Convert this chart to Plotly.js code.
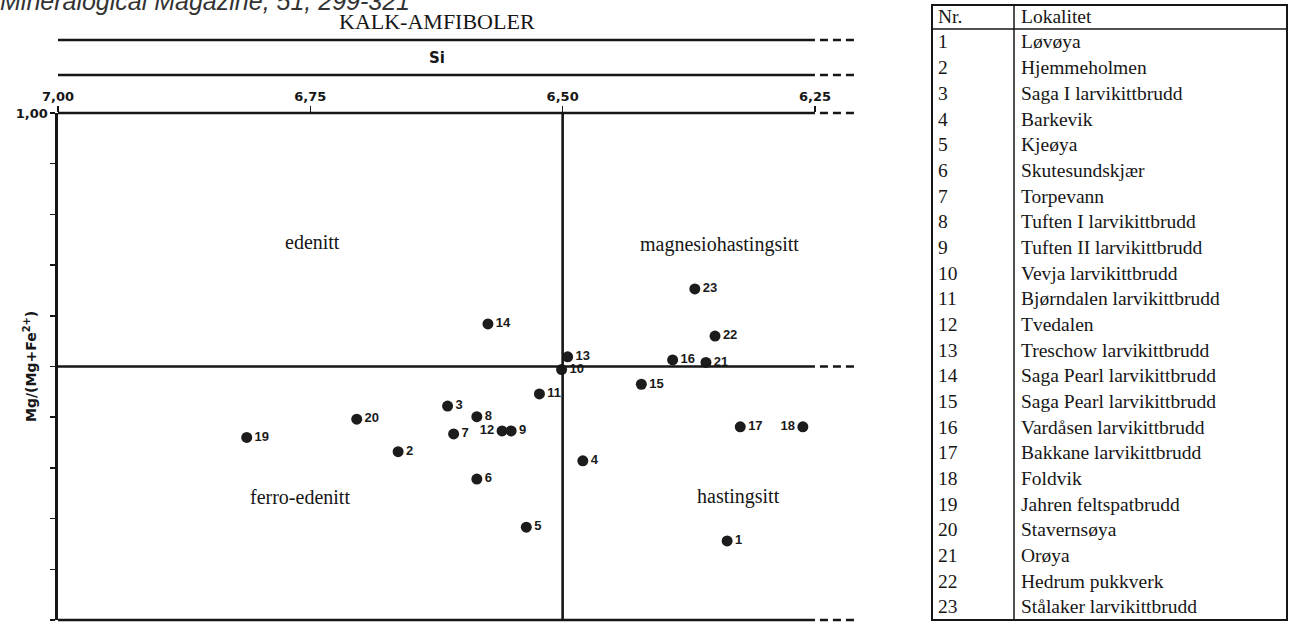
<!DOCTYPE html>
<html>
<head>
<meta charset="utf-8">
<script src="https://cdn.plot.ly/plotly-3.0.1.min.js"></script>
<style>html,body{margin:0;padding:0;background:#fff;}#chart{width:1293px;height:624px;}</style>
</head>
<body>
<div id="chart"></div>
<script>
// ---- data ----
const pointIds = [1,2,3,4,5,6,7,8,9,10,11,12,13,14,15,16,17,18,19,20,21,22,23];
const siValues = [6.337,6.663,6.614,6.480,6.536,6.585,6.608,6.585,6.551,6.501,6.523,6.560,6.495,6.574,6.422,6.391,6.324,6.262,6.813,6.704,6.358,6.349,6.369];
const mgValues = [0.156,0.332,0.422,0.314,0.183,0.278,0.367,0.401,0.373,0.494,0.446,0.373,0.519,0.584,0.465,0.513,0.381,0.381,0.360,0.396,0.508,0.560,0.653];
const labelLeftIds = [12,18];

const xTickVals = [7.00,6.75,6.50,6.25];
const xTickText = ['7,00','6,75','6,50','6,25'];
const yTickVals = [0,1.0];
const yTickText = ['0,00','1,00'];
const yMinorStep = 0.1;

const regionNames = ['edenitt','magnesiohastingsitt','ferro-edenitt','hastingsitt'];
const regionX = [6.748,6.345,6.760,6.326];
const regionY = [0.746,0.740,0.243,0.243];

const tableHeader = ['Nr.','Lokalitet'];
const tableNames = ['Løvøya','Hjemmeholmen','Saga I larvikittbrudd','Barkevik','Kjeøya','Skutesundskjær','Torpevann','Tuften I larvikittbrudd','Tuften II larvikittbrudd','Vevja larvikittbrudd','Bjørndalen larvikittbrudd','Tvedalen','Treschow larvikittbrudd','Saga Pearl larvikittbrudd','Saga Pearl larvikittbrudd','Vardåsen larvikittbrudd','Bakkane larvikittbrudd','Foldvik','Jahren feltspatbrudd','Stavernsøya','Orøya','Hedrum pukkverk','Stålaker larvikittbrudd'];

// ---- layout geometry ----
const W = 1293, H = 624;
const mL = 58, mT = 113, mB = 4;
const plotRightPx = 858;
const mR = W - plotRightPx;
const xStart = 7.0, xSolidEnd = 6.25;
const plotW = plotRightPx - mL, plotH = H - mT - mB;
const xEnd = xSolidEnd - 43 / (252 / 0.25);
const fx = v => (xStart - v) / (xStart - xEnd);          // data x -> paper
const pxX = p => (p - mL) / plotW;                         // pixel -> paper
const pxY = p => (H - mB - p) / plotH;
const dashStartFrac = fx(xSolidEnd) + 5 / plotW;

const ink = '#161616';
const lw = 2.6;
const shapes = [];
[40, 75].forEach(py => {
  shapes.push({type:'line', xref:'paper', yref:'paper', x0:0, x1:fx(xSolidEnd), y0:pxY(py), y1:pxY(py), line:{color:ink, width:lw}});
  shapes.push({type:'line', xref:'paper', yref:'paper', x0:dashStartFrac, x1:1, y0:pxY(py), y1:pxY(py), line:{color:ink, width:lw, dash:'8px,5px'}});
});
[0,1].forEach(yv => {
  shapes.push({type:'line', xref:'paper', yref:'paper', x0:0, x1:fx(xSolidEnd), y0:yv, y1:yv, line:{color:ink, width:lw}});
  shapes.push({type:'line', xref:'paper', yref:'paper', x0:dashStartFrac, x1:1, y0:yv, y1:yv, line:{color:ink, width:lw, dash:'8px,5px'}});
});
shapes.push({type:'line', xref:'x', yref:'y', x0:xStart, x1:xSolidEnd, y0:0.5, y1:0.5, line:{color:ink, width:lw}});
shapes.push({type:'line', xref:'paper', yref:'y', x0:dashStartFrac, x1:1, y0:0.5, y1:0.5, line:{color:ink, width:lw, dash:'8px,5px'}});
shapes.push({type:'line', xref:'x', yref:'paper', x0:6.5, x1:6.5, y0:0, y1:1, line:{color:ink, width:lw}});

// table frame
const tL = 932, tR = 1287, tT = 5, tB = 620, tDiv = 1014, tHead = 29;
shapes.push({type:'rect', xref:'paper', yref:'paper', x0:pxX(tL), x1:pxX(tR), y0:pxY(tB), y1:pxY(tT), line:{color:ink, width:2}});
shapes.push({type:'line', xref:'paper', yref:'paper', x0:pxX(tDiv), x1:pxX(tDiv), y0:pxY(tB), y1:pxY(tT), line:{color:ink, width:1.5}});
shapes.push({type:'line', xref:'paper', yref:'paper', x0:pxX(tL), x1:pxX(tR), y0:pxY(tHead), y1:pxY(tHead), line:{color:ink, width:1.5}});

const annotations = [];
const serif = 'Liberation Serif, Times New Roman, serif';
const sans = 'Liberation Sans, Arial, sans-serif';
const wide = 'DejaVu Sans, Verdana, sans-serif';
annotations.push({xref:'paper', yref:'paper', x:pxX(-2), y:pxY(1), xanchor:'left', yanchor:'middle', showarrow:false,
  text:'<i>Mineralogical Magazine, 51, 299-321</i>', font:{family:sans, size:25, color:'#333'}});
annotations.push({xref:'paper', yref:'paper', x:pxX(437), y:pxY(22), xanchor:'center', yanchor:'middle', showarrow:false,
  text:'KALK-AMFIBOLER', font:{family:serif, size:22, color:ink}});
annotations.push({xref:'paper', yref:'paper', x:pxX(437), y:pxY(58), xanchor:'center', yanchor:'middle', showarrow:false,
  text:'<b>Si</b>', font:{family:wide, size:15, color:ink}});
annotations.push({xref:'paper', yref:'paper', x:pxX(30), y:pxY(366), xanchor:'center', yanchor:'middle', showarrow:false, textangle:-90,
  text:'<b>Mg/(Mg+Fe<sup>2+</sup>)</b>', font:{family:wide, size:14, color:ink}});
regionNames.forEach((n,i) => annotations.push({xref:'x', yref:'y', x:regionX[i], y:regionY[i], showarrow:false,
  text:n, font:{family:serif, size:20, color:ink}}));
const colNrPx = 936, colNamePx = 1019, headPy = 17, row0Py = 42, rowStep = 25.68, tSize = 19.5;
annotations.push({xref:'paper', yref:'paper', x:pxX(colNrPx), y:pxY(headPy), xanchor:'left', yanchor:'middle', showarrow:false, text:tableHeader[0], font:{family:serif, size:tSize, color:ink}});
annotations.push({xref:'paper', yref:'paper', x:pxX(colNamePx), y:pxY(headPy), xanchor:'left', yanchor:'middle', showarrow:false, text:tableHeader[1], font:{family:serif, size:tSize, color:ink}});
tableNames.forEach((n,i) => {
  const py = row0Py + i*rowStep;
  annotations.push({xref:'paper', yref:'paper', x:pxX(colNrPx), y:pxY(py), xanchor:'left', yanchor:'middle', showarrow:false, text:String(pointIds[i]), font:{family:serif, size:tSize, color:ink}});
  annotations.push({xref:'paper', yref:'paper', x:pxX(colNamePx), y:pxY(py), xanchor:'left', yanchor:'middle', showarrow:false, text:n, font:{family:serif, size:tSize, color:ink}});
});

const textPos = pointIds.map(id => labelLeftIds.includes(id) ? 'middle left' : 'middle right');

const trace = {
  type:'scatter', mode:'markers+text',
  x: siValues, y: mgValues, text: pointIds.map(String),
  textposition: textPos,
  textfont:{family:sans, size:13, color:'#1a1a1a', weight:'bold'},
  marker:{size:11, color:'#1c1c1c', line:{width:0}},
  cliponaxis:false, hoverinfo:'skip', showlegend:false
};

const layout = {
  width:W, height:H,
  margin:{l:mL, r:mR, t:mT, b:mB, pad:0},
  paper_bgcolor:'#fff', plot_bgcolor:'#fff',
  showlegend:false,
  xaxis:{range:[xStart, xEnd], side:'top', showgrid:false, zeroline:false, showline:false,
    tickmode:'array', tickvals:xTickVals, ticktext:xTickText, ticks:'outside', ticklen:6, tickwidth:1.5, tickcolor:ink,
    tickfont:{family:wide, size:13, color:ink, weight:'bold'}, fixedrange:true},
  yaxis:{range:[0,1], showgrid:false, zeroline:false, showline:true, linecolor:ink, linewidth:lw,
    tickmode:'array', tickvals:yTickVals, ticktext:yTickText, ticks:'outside', ticklen:5, tickwidth:1.5, tickcolor:ink,
    minor:{dtick:yMinorStep, tick0:0, ticks:'outside', ticklen:5, tickwidth:1.5, tickcolor:ink, showgrid:false},
    tickfont:{family:wide, size:13, color:ink, weight:'bold'}, fixedrange:true},
  shapes:shapes,
  annotations:annotations
};

Plotly.newPlot('chart', [trace], layout, {displayModeBar:false, staticPlot:true});
</script>
</body>
</html>
